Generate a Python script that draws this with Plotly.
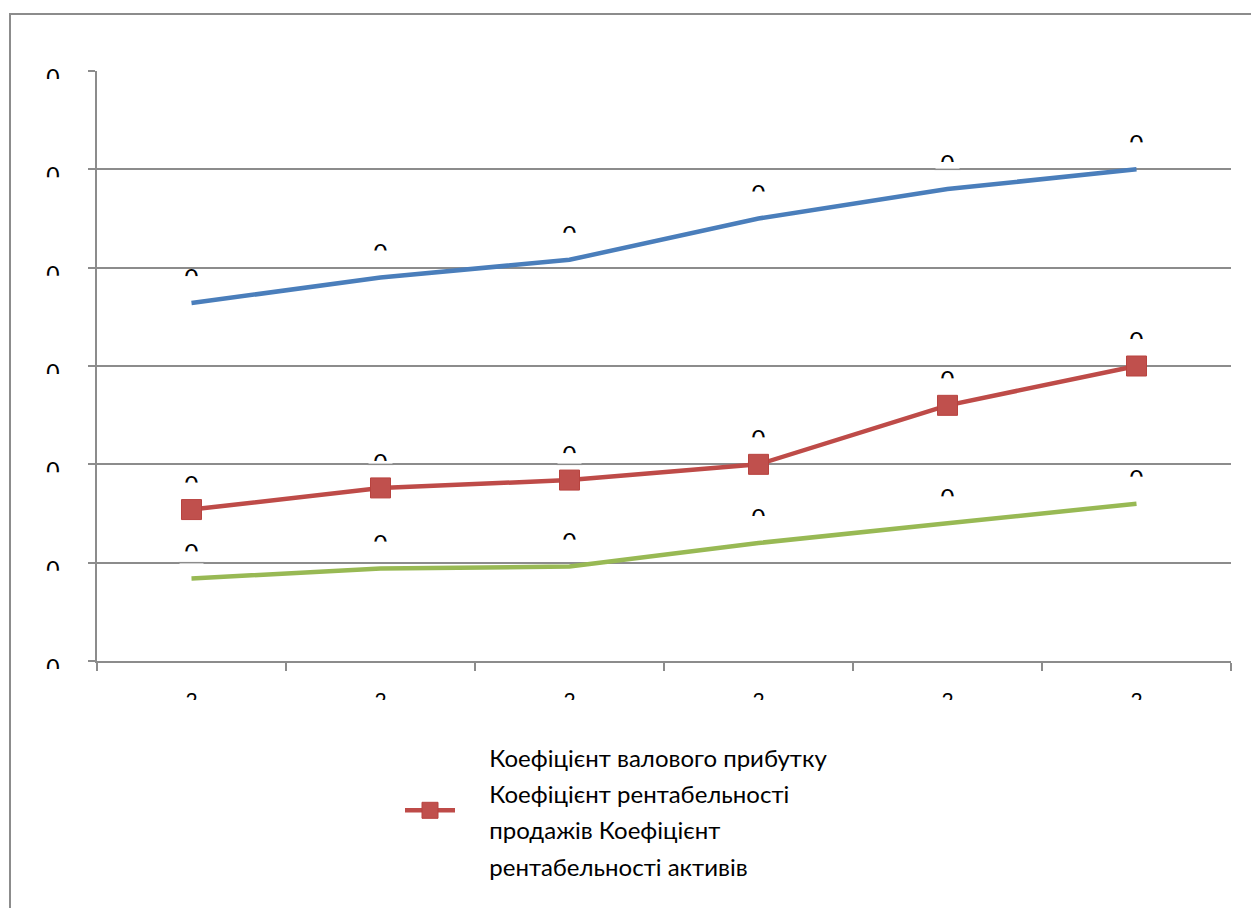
import plotly.graph_objects as go

# ---- data ----
periods = [0, 1, 2, 3, 4, 5]
period_labels = ["2", "2", "2", "2", "2", "2"]
gross_margin = [0.364, 0.390, 0.408, 0.450, 0.480, 0.500]
sales_return = [0.154, 0.176, 0.184, 0.200, 0.260, 0.300]
asset_return = [0.084, 0.094, 0.096, 0.120, 0.140, 0.160]
y_ticks = [0.0, 0.1, 0.2, 0.3, 0.4, 0.5, 0.6]
y_tick_labels = ["0", "0", "0", "0", "0", "0", "0"]
point_label = "0"
legend_lines = ["Коефіцієнт валового прибутку", "Коефіцієнт рентабельності",
                "продажів Коефіцієнт", "рентабельності активів"]

BLUE = "#4A7EBB"
RED = "#BE4B48"
GREEN = "#98B954"
GRID = "#8C8C8C"
FONT = "Lato"

fig = go.Figure()

fig.add_trace(go.Scatter(x=periods, y=gross_margin, mode="lines",
                         line=dict(color=BLUE, width=4.5), showlegend=False, hoverinfo="skip"))
fig.add_trace(go.Scatter(x=periods, y=asset_return, mode="lines",
                         line=dict(color=GREEN, width=4.5), showlegend=False, hoverinfo="skip"))
legend_name = "<br>".join("<span style='font-size:39px'>\u2003</span>"
                          "<span style='font-size:24px'>%s</span>" % s for s in legend_lines)
fig.add_trace(go.Scatter(x=periods, y=sales_return, mode="lines+markers",
                         line=dict(color=RED, width=4.5),
                         marker=dict(symbol="square", size=20, color="#C0504D",
                                     line=dict(color="#B8433F", width=1)),
                         name=legend_name, showlegend=True, hoverinfo="skip"))

# data labels
for series in (gross_margin, sales_return, asset_return):
    fig.add_trace(go.Scatter(x=periods, y=series, mode="markers+text",
                             text=[point_label] * len(series), textposition="top center",
                             textfont=dict(family=FONT, size=24, color="black"),
                             marker=dict(size=16, color="rgba(0,0,0,0)"),
                             showlegend=False, hoverinfo="skip", cliponaxis=False))

shapes = []
# outer frame
shapes.append(dict(type="rect", xref="paper", yref="paper", layer="below",
                   xsizemode="pixel", ysizemode="pixel", xanchor=0, yanchor=0,
                   x0=-87, x1=1200, y0=-300, y1=647,
                   line=dict(color=GRID, width=2), fillcolor="rgba(0,0,0,0)"))

# clip covers for data labels
for series in (gross_margin, sales_return, asset_return):
    for xi, yv in zip(periods, series):
        shapes.append(dict(type="rect", xref="x", yref="y", layer="above",
                           xsizemode="pixel", ysizemode="pixel", xanchor=xi, yanchor=yv,
                           x0=-12, x1=12, y0=14, y1=27,
                           line=dict(width=0), fillcolor="white"))
# restore gridline pieces hidden by the covers
for xi, gy in ((4, 0.5), (1, 0.2), (2, 0.2), (0, 0.1)):
    shapes.append(dict(type="line", xref="x", yref="y", layer="above",
                       xsizemode="pixel", xanchor=xi, x0=-13, x1=13, y0=gy, y1=gy,
                       line=dict(color=GRID, width=1.5)))
# clip covers for y tick labels
for yv in y_ticks[1:]:
    shapes.append(dict(type="rect", xref="paper", yref="y", layer="above",
                       xsizemode="pixel", ysizemode="pixel", xanchor=0, yanchor=yv,
                       x0=-80, x1=-12, y0=-8, y1=-28,
                       line=dict(width=0), fillcolor="white"))
shapes.append(dict(type="rect", xref="paper", yref="paper", layer="above",
                   xsizemode="pixel", ysizemode="pixel", xanchor=0, yanchor=0,
                   x0=-80, x1=-12, y0=-8, y1=-28,
                   line=dict(width=0), fillcolor="white"))
# clip cover for x tick labels
shapes.append(dict(type="rect", xref="paper", yref="paper", layer="above",
                   ysizemode="pixel", yanchor=0, x0=-0.05, x1=1.05, y0=-39, y1=-70,
                   line=dict(width=0), fillcolor="white"))

fig.update_layout(
    width=1251, height=908,
    margin=dict(l=97, r=20, t=71, b=247),
    paper_bgcolor="white", plot_bgcolor="white",
    font=dict(family=FONT, size=21, color="black"),
    showlegend=True,
    legend=dict(x=(400 - 97) / 1134, xanchor="left", y=-0.2534, yanchor="middle",
                font=dict(family=FONT, size=28, color="black"),
                bgcolor="rgba(0,0,0,0)", valign="middle", itemwidth=50),
    shapes=shapes,
)

fig.update_xaxes(range=[-0.5, 5.5], tickmode="array", tickvals=periods, ticktext=period_labels,
                 ticks="", showgrid=False, zeroline=False,
                 showline=True, linecolor=GRID, linewidth=1.5,
                 minor=dict(tickmode="linear", tick0=-0.5, dtick=1, ticks="outside",
                            ticklen=8, tickcolor=GRID, tickwidth=1.5, showgrid=False),
                 tickfont=dict(family=FONT, size=21), ticklabelstandoff=20)
fig.update_yaxes(range=[0, 0.6], tickmode="array", tickvals=y_ticks, ticktext=y_tick_labels,
                 ticks="outside", ticklen=7, tickcolor=GRID, tickwidth=1.5,
                 showgrid=True, gridcolor=GRID, gridwidth=1.5, zeroline=False,
                 showline=True, linecolor=GRID, linewidth=1.5,
                 tickfont=dict(family=FONT, size=23), ticklabelstandoff=24, ticklabelshift=7)

fig.write_html("out.html")
